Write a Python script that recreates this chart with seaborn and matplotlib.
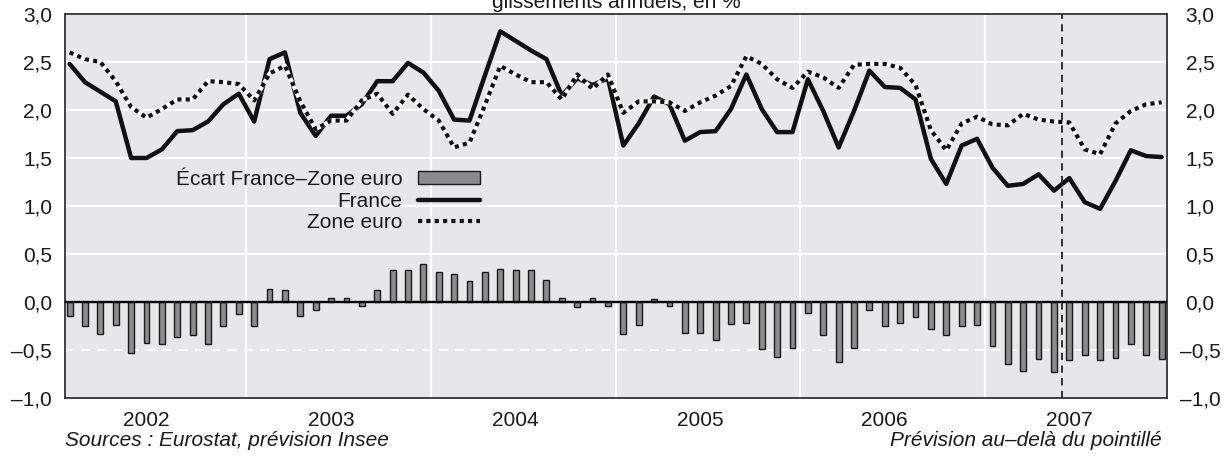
import matplotlib
matplotlib.use("Agg")
import matplotlib.pyplot as plt
import numpy as np
import pandas as pd
import seaborn as sns
from matplotlib.lines import Line2D
from matplotlib.patches import Patch
from matplotlib.ticker import FuncFormatter

# monthly data, Jan 2002 -> Dec 2007
years = ["2002", "2003", "2004", "2005", "2006", "2007"]
france = [
    2.48, 2.29, 2.19, 2.09, 1.50, 1.50, 1.59, 1.78, 1.79, 1.88, 2.06, 2.17,
    1.88, 2.53, 2.60, 1.97, 1.73, 1.94, 1.94, 2.06, 2.30, 2.30, 2.49, 2.39,
    2.20, 1.90, 1.89, 2.36, 2.82, 2.72, 2.62, 2.53, 2.15, 2.33, 2.26, 2.33,
    1.63, 1.86, 2.14, 2.06, 1.68, 1.77, 1.78, 2.01, 2.37, 2.01, 1.77, 1.77,
    2.32, 1.99, 1.61, 1.99, 2.41, 2.24, 2.23, 2.11, 1.49, 1.23, 1.63, 1.70,
    1.40, 1.21, 1.23, 1.33, 1.16, 1.29, 1.04, 0.97, 1.26, 1.58, 1.52, 1.51,
]
zone_euro = [
    2.60, 2.53, 2.50, 2.30, 2.03, 1.92, 2.01, 2.11, 2.11, 2.30, 2.29, 2.27,
    2.10, 2.38, 2.46, 2.09, 1.80, 1.89, 1.89, 2.10, 2.17, 1.96, 2.16, 2.01,
    1.89, 1.61, 1.66, 2.05, 2.46, 2.37, 2.29, 2.29, 2.11, 2.37, 2.22, 2.37,
    1.97, 2.09, 2.09, 2.08, 1.99, 2.08, 2.15, 2.25, 2.56, 2.48, 2.32, 2.23,
    2.40, 2.34, 2.23, 2.47, 2.48, 2.48, 2.44, 2.26, 1.79, 1.58, 1.86, 1.93,
    1.85, 1.84, 1.96, 1.90, 1.88, 1.87, 1.59, 1.54, 1.86, 1.99, 2.06, 2.08,
]
ecart = [
    -0.15, -0.25, -0.33, -0.24, -0.53, -0.43, -0.44, -0.36, -0.34, -0.44, -0.25, -0.13,
    -0.25, 0.14, 0.13, -0.15, -0.08, 0.04, 0.04, -0.04, 0.13, 0.33, 0.33, 0.40,
    0.31, 0.29, 0.22, 0.31, 0.34, 0.33, 0.33, 0.23, 0.04, -0.05, 0.04, -0.04,
    -0.33, -0.24, 0.03, -0.04, -0.32, -0.32, -0.40, -0.23, -0.22, -0.49, -0.57, -0.48,
    -0.11, -0.34, -0.62, -0.48, -0.08, -0.25, -0.22, -0.16, -0.28, -0.34, -0.25, -0.24,
    -0.46, -0.65, -0.72, -0.59, -0.73, -0.60, -0.55, -0.60, -0.58, -0.44, -0.55, -0.59,
]
last_observed = 64  # May 2007, forecast afterwards

BG = "#e6e7e8"
INK = "#1a1a1a"
BAR = "#8c8c8c"
FS = 15

sns.set_theme(style="white", rc={"axes.facecolor": BG, "axes.edgecolor": "#333333",
                                 "axes.linewidth": 1.3, "text.color": INK,
                                 "xtick.color": INK, "ytick.color": INK})
plt.rcParams["font.family"] = ["Liberation Sans", "DejaVu Sans"]

df = pd.DataFrame({"month": np.arange(len(france)), "france": france,
                   "zone_euro": zone_euro, "ecart": ecart})

fig, ax = plt.subplots(figsize=(12.31, 4.61), dpi=100)
fig.subplots_adjust(left=65 / 1231, right=1167 / 1231, bottom=1 - 398 / 461, top=1 - 14 / 461)

# grid: white lines, dashed at -0.5, year separators
for y in [0.5, 1.0, 1.5, 2.0, 2.5]:
    ax.axhline(y, color="white", lw=1.5, zorder=0.5)
ax.axhline(-0.5, color="white", lw=1.3, ls=(0, (5, 4)), zorder=0.5)
for k in range(1, len(years)):
    ax.axvline(12 * k - 0.5, color="white", lw=1.6, zorder=0.5)

sns.barplot(data=df, x="month", y="ecart", native_scale=True, width=0.38, color=BAR,
            saturation=1, edgecolor=INK, linewidth=1.0, ax=ax, zorder=2)
ax.axhline(0, color="black", lw=1.7, zorder=3)

sns.lineplot(data=df, x="month", y="france", color="#111111", lw=3.2, ax=ax, zorder=4)
sns.lineplot(data=df, x="month", y="zone_euro", color="white", lw=3.0, ax=ax, zorder=5)
sns.lineplot(data=df, x="month", y="zone_euro", color="#111111", lw=3.0,
             linestyle=(0, (1, 1)), ax=ax, zorder=6)

ax.axvline(last_observed + 0.5, color="#222222", lw=1.3, ls=(0, (4, 3)), zorder=7)

ax.set_xlim(-0.3, 71.35)
ax.set_ylim(-1, 3)
ax.set_xlabel("")
ax.set_ylabel("")
ax.set_xticks([12 * k + 5 for k in range(len(years))])
ax.set_xticklabels(years)
ax.tick_params(axis="x", length=0, pad=9, labelsize=FS)

fmt = FuncFormatter(lambda v, _: f"{v:.1f}".replace(".", ",").replace("-", "\u2013"))
yt = np.arange(-1, 3.01, 0.5)
ax.set_yticks(yt)
ax.yaxis.set_major_formatter(fmt)
ax.tick_params(axis="y", length=0, pad=9.4, labelsize=FS)

ax2 = ax.twinx()
ax2.set_ylim(-1, 3)
ax2.set_yticks(yt)
ax2.yaxis.set_major_formatter(fmt)
ax2.tick_params(axis="y", length=0, pad=23.8, labelsize=FS)
for t in ax2.yaxis.get_major_ticks():
    t.label2.set_horizontalalignment("center")
for s in ax2.spines.values():
    s.set_visible(False)

handles = [Patch(facecolor=BAR, edgecolor=INK, lw=1.0),
           Line2D([], [], color="#111111", lw=3.2),
           Line2D([], [], color="#111111", lw=3.0, ls=(0, (1, 1)))]
labels = ["Écart France\u2013Zone euro", "France", "Zone euro"]
ax2.legend(handles, labels, loc="center", bbox_to_anchor=(328 / 1231, 1 - 201 / 461),
           bbox_transform=fig.transFigure, frameon=False, markerfirst=False,
           handlelength=3.0, handleheight=0.55, handletextpad=0.75,
           labelspacing=0.12, fontsize=FS, borderpad=0)

fig.text(616 / 1231, 1 - 8 / 461, "glissements annuels, en %", ha="center",
         va="baseline", fontsize=FS)
fig.text(65 / 1231, 1 - 440 / 461, "Sources : Eurostat, prévision Insee",
         style="italic", ha="left", va="center", fontsize=FS)
fig.text(1162 / 1231, 1 - 440 / 461, "Prévision au\u2013delà du pointillé",
         style="italic", ha="right", va="center", fontsize=FS)

fig.savefig("out.png", dpi=100)
